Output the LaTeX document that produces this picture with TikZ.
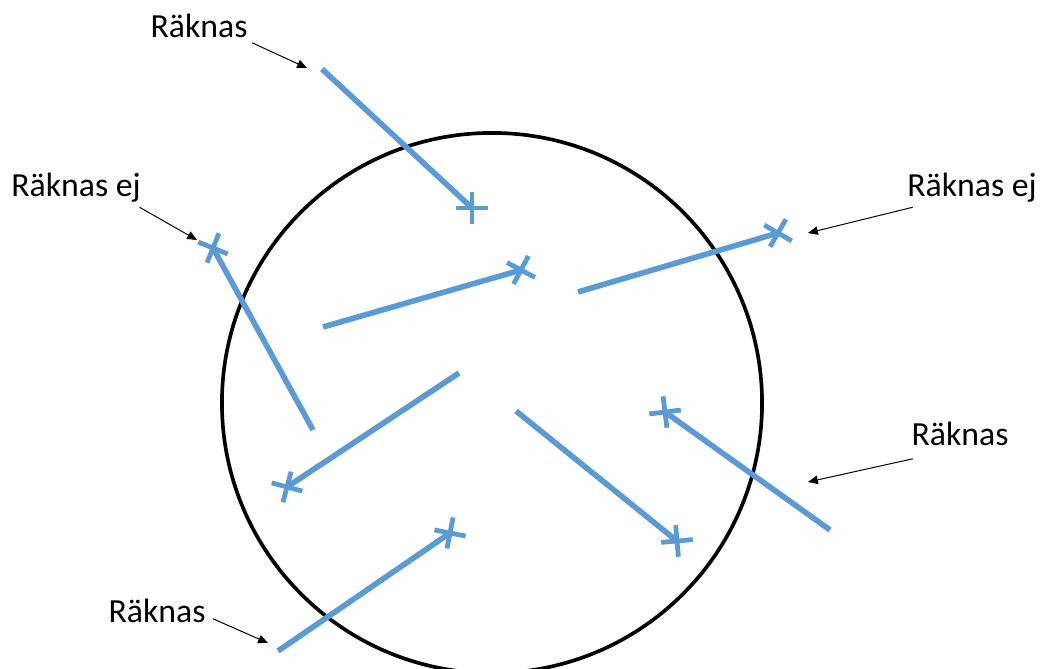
\documentclass[tikz,border=0pt]{standalone}
\usepackage{fontspec}
\setmainfont{Carlito}
\usepackage{tikz}
\usetikzlibrary{arrows.meta,shapes.misc}
\definecolor{SegBlue}{RGB}{91,155,213}

\begin{document}
\begin{tikzpicture}[x=0.025cm,y=-0.025cm,
seg/.style={draw=SegBlue,line width=4pt},
mk/.style={cross out,draw=SegBlue,line width=3.4pt,minimum size=0.56cm,inner sep=0pt,outer sep=0pt},
lbl/.style={font=\fontsize{24}{28}\selectfont,anchor=base,inner sep=3pt},
ptr/.style={-{Triangle[length=7pt,width=6pt]},line width=0.7pt}
]
\useasboundingbox (0,0) rectangle (1040,669);
\node[draw,circle,line width=2.6pt,minimum size=13.5cm,inner sep=0pt] (ring) at (492,403) {};
% counted / not counted segments
\coordinate (a1) at (322,69);  \node[mk,rotate=45] (x1) at (472,208) {};
\coordinate (a2) at (323,327); \node[mk,rotate=17] (x2) at (521,270) {};
\coordinate (a3) at (578,292); \node[mk,rotate=15] (x3) at (778,233) {};
\coordinate (a4) at (313,430); \node[mk,rotate=23] (x4) at (213,248) {};
\coordinate (a5) at (459,373); \node[mk,rotate=30] (x5) at (287,487) {};
\coordinate (a6) at (516,411); \node[mk,rotate=50] (x6) at (677,541) {};
\coordinate (a7) at (830,530); \node[mk,rotate=52] (x7) at (665,412) {};
\coordinate (a8) at (278,651); \node[mk,rotate=34] (x8) at (450,533) {};
\draw[seg] (a1)--(x1.center);
\draw[seg] (a2)--(x2.center);
\draw[seg] (a3)--(x3.center);
\draw[seg] (a4)--(x4.center);
\draw[seg] (a5)--(x5.center);
\draw[seg] (a6)--(x6.center);
\draw[seg] (a7)--(x7.center);
\draw[seg] (a8)--(x8.center);
% labels
\node[lbl] (cA) at (199,38) {Räknas};
\node[lbl] (eA) at (76,197) {Räknas ej};
\node[lbl] (eB) at (972,197) {Räknas ej};
\node[lbl] (cB) at (960,445) {Räknas};
\node[lbl] (cC) at (157,622) {Räknas};
\coordinate (pA) at (307,68);
\coordinate (pE) at (197,240);
\coordinate (pF) at (808,233);
\coordinate (pB) at (808,482);
\coordinate (pC) at (268,643);
\draw[ptr] (cA.south east)--(pA);
\draw[ptr] ([xshift=-4pt]eA.south east)--(pE);
\draw[ptr] ([xshift=7pt]eB.south west)--(pF);
\draw[ptr] ([shift={(6,9)}]cB.south west)--(pB);
\draw[ptr] ([shift={(3,-8)}]cC.south east)--(pC);
\end{tikzpicture}
\end{document}
